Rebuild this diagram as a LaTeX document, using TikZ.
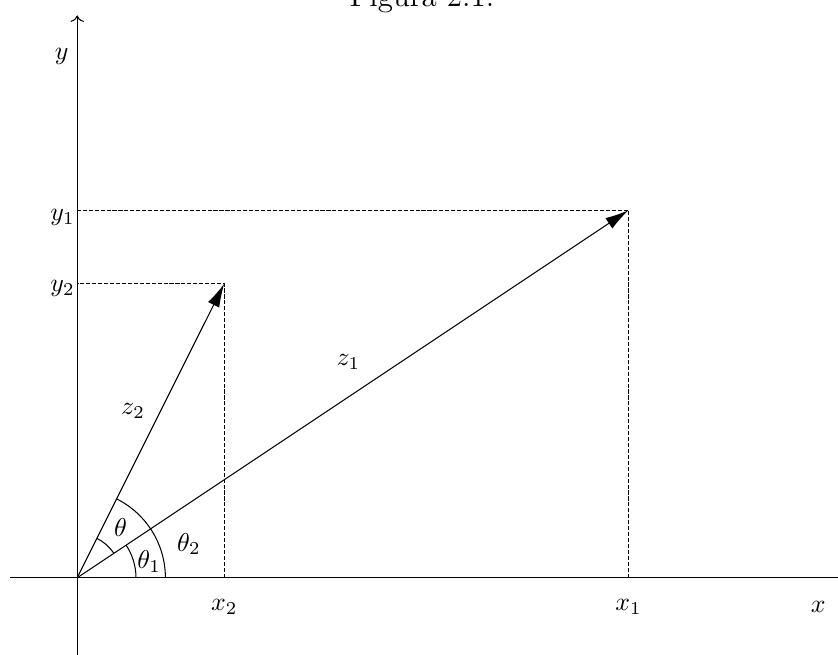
\documentclass[tikz,border=0pt]{standalone}
\usepackage{amsmath, amssymb}
\usetikzlibrary{positioning,arrows.meta}
\tikzset{
  vecarrow/.style={-{Latex[length=3.2mm, width=1.7mm]}},
  axisline/.style={thin},
  projline/.style={dash pattern=on 1.6pt off 0.7pt},
  anglearc/.style={thin},
  lbl/.style={inner sep=1pt}
}

\begin{document}
\begin{tikzpicture}
  \useasboundingbox (-1.05,-1.05) rectangle (10.35,7.86);
  \node[font=\large, anchor=base] (title) at (4.69,7.77) {Figura 2.1.};
  % points
  \coordinate (O) at (0,0);
  \coordinate (Z1) at (7.5,5);
  \coordinate (Z2) at (2,4);
  \coordinate (X1) at (7.5,0);
  \coordinate (X2) at (2,0);
  \coordinate (Y1) at (0,5);
  \coordinate (Y2) at (0,4);
  \coordinate (xl) at (-0.91,0);
  \coordinate (xr) at (10.35,0);
  \coordinate (yb) at (0,-1.05);
  \coordinate (yt) at (0,7.65);
  % axes
  \draw[axisline] (xl) -- (xr);
  \draw[axisline, ->] (yb) -- (yt);
  % projections
  \draw[projline] (X1) -- (Z1) -- (Y1);
  \draw[projline] (X2) -- (Z2) -- (Y2);
  % vectors
  \draw[vecarrow] (O) -- (Z1);
  \draw[vecarrow] (O) -- (Z2);
  % angles
  \draw[anglearc] ([shift={(0:0.8)}]O) arc[start angle=0, end angle=33.69, radius=0.8];
  \draw[anglearc] ([shift={(0:1.2)}]O) arc[start angle=0, end angle=63.43, radius=1.2];
  \draw[anglearc] ([shift={(33.69:0.6)}]O) arc[start angle=33.69, end angle=63.43, radius=0.6];
  % labels
  \node[lbl] (lx) at (10.08,-0.4) {$x$};
  \node[lbl] (ly) at (-0.21,7.09) {$y$};
  \node[lbl] (lx1) at (7.5,-0.4) {$x_1$};
  \node[lbl] (lx2) at (2,-0.4) {$x_2$};
  \node[lbl] (ly1) at (-0.2,4.9) {$y_1$};
  \node[lbl] (ly2) at (-0.2,3.93) {$y_2$};
  \node[lbl] (lz1) at (3.69,2.94) {$z_1$};
  \node[lbl] (lz2) at (0.76,2.27) {$z_2$};
  \node[lbl] (lt) at (0.59,0.68) {$\theta$};
  \node[lbl] (lt1) at (0.98,0.22) {$\theta_1$};
  \node[lbl] (lt2) at (1.52,0.46) {$\theta_2$};
\end{tikzpicture}
\end{document}
